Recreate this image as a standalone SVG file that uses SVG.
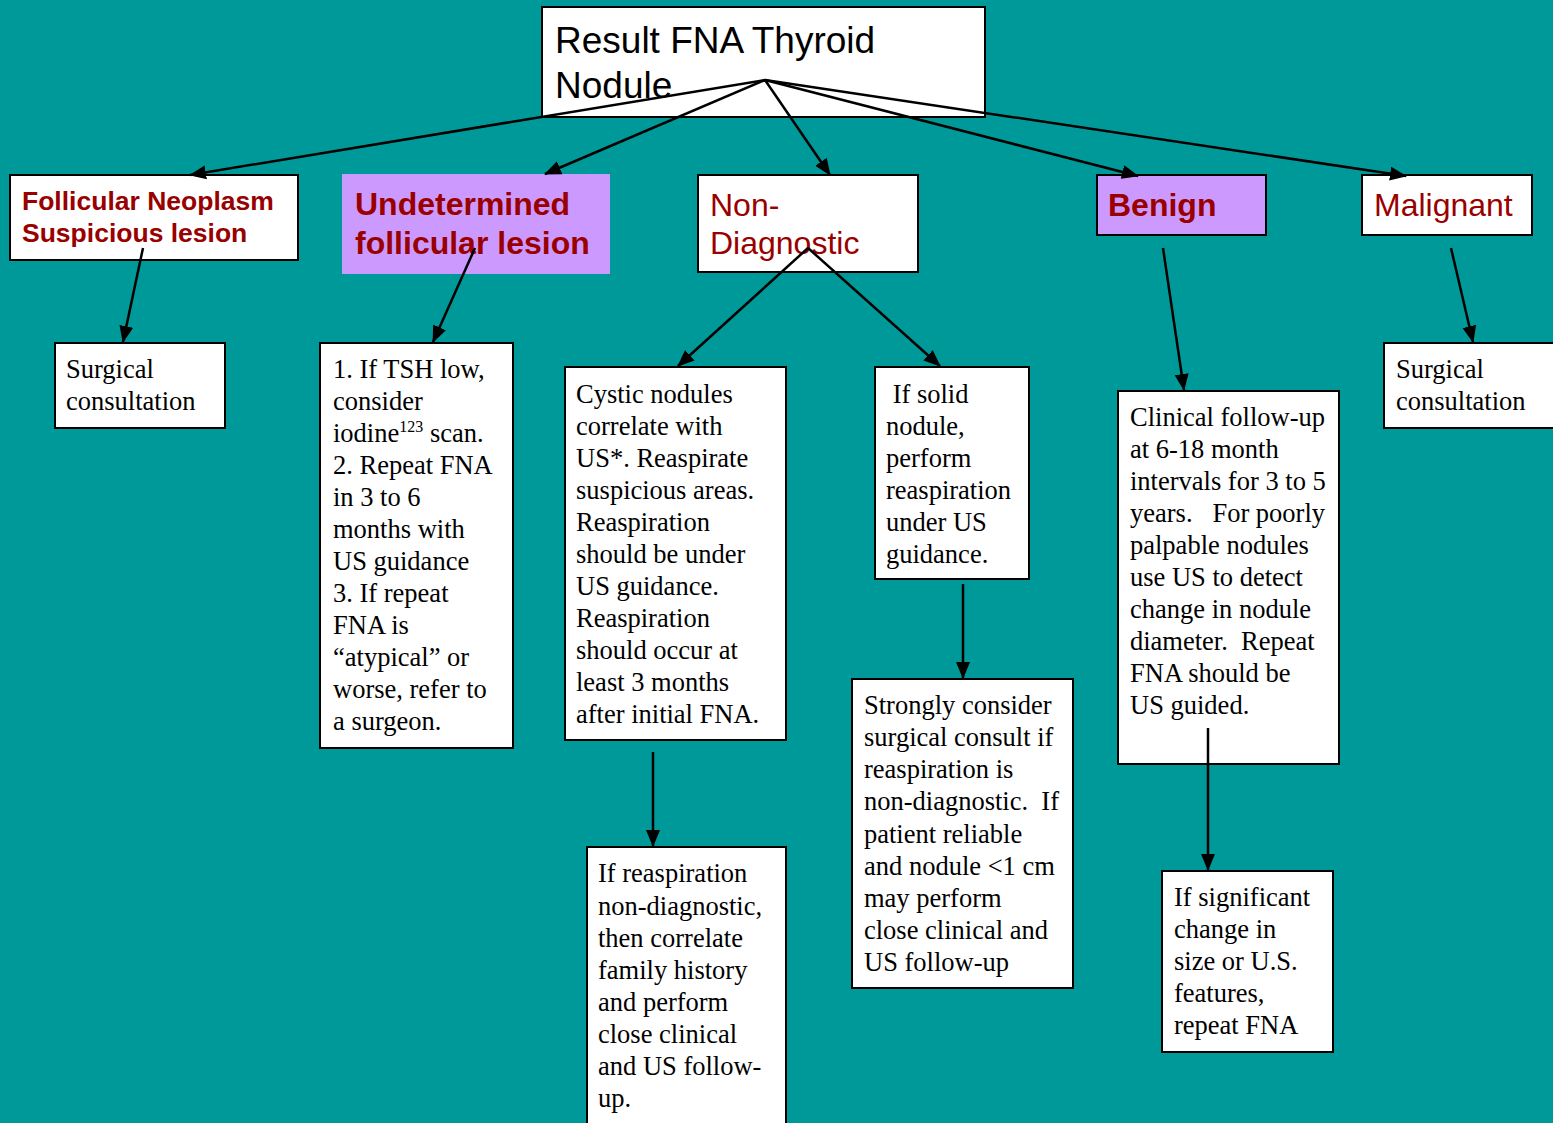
<svg xmlns="http://www.w3.org/2000/svg" width="1553" height="1123" viewBox="0 0 1553 1123">
<style>
.box{fill:#fff;stroke:#000;stroke-width:2}
.purple{fill:#cc99ff}
.pb{fill:#cc99ff;stroke:#000;stroke-width:2}
.hd{font-family:"Liberation Sans",Arial,sans-serif;fill:#990000}
.b{font-weight:bold}
.tx{font-family:"Liberation Serif","Times New Roman",serif;font-size:26.5px;fill:#000}
.ti{font-family:"Liberation Sans",Arial,sans-serif;font-size:37px;fill:#000}
.cn line{stroke:#000;stroke-width:2.5;marker-end:url(#ah)}
</style>
<defs>
<marker id="ah" markerUnits="userSpaceOnUse" markerWidth="18" markerHeight="16" refX="16" refY="8" orient="auto">
<path d="M0,1 L17,8 L0,15 Z" fill="#000"/>
</marker>
</defs>
<rect width="1553" height="1123" fill="#009999"/>

<g id="n-top">
<rect class="box" x="542" y="7" width="443" height="110"/>
<text class="ti" x="555" y="53">Result FNA Thyroid</text>
<text class="ti" x="555" y="98">Nodule</text>
</g>

<g id="n-follicular">
<rect class="box" x="10" y="175" width="288" height="85"/>
<text class="hd b" font-size="26.5" x="22" y="210">Follicular Neoplasm</text>
<text class="hd b" font-size="26.5" x="22" y="242">Suspicious lesion</text>
</g>

<g id="n-undetermined">
<rect class="purple" x="342" y="174" width="268" height="100"/>
<text class="hd b" font-size="32" x="355" y="215">Undetermined</text>
<text class="hd b" font-size="32" x="355" y="254">follicular lesion</text>
</g>

<g id="n-nondiag">
<rect class="box" x="698" y="175" width="220" height="97"/>
<text class="hd" font-size="32" x="710" y="216">Non-</text>
<text class="hd" font-size="32" x="710" y="254">Diagnostic</text>
</g>

<g id="n-benign">
<rect class="pb" x="1097" y="175" width="169" height="60"/>
<text class="hd b" font-size="32" x="1108" y="216">Benign</text>
</g>

<g id="n-malignant">
<rect class="box" x="1362" y="175" width="170" height="60"/>
<text class="hd" font-size="32" x="1374" y="216">Malignant</text>
</g>

<g id="n-surg-left">
<rect class="box" x="55" y="343" width="170" height="85"/>
<text class="tx" x="66" y="378">Surgical</text>
<text class="tx" x="66" y="410">consultation</text>
</g>

<g id="n-tsh">
<rect class="box" x="320" y="343" width="193" height="405"/>
<text class="tx" x="333" y="378">1. If TSH low,</text>
<text class="tx" x="333" y="410">consider</text>
<text class="tx" x="333" y="442">iodine<tspan font-size="16" dy="-10">123</tspan><tspan dy="10"> scan.</tspan></text>
<text class="tx" x="333" y="474">2. Repeat FNA</text>
<text class="tx" x="333" y="506">in 3 to 6</text>
<text class="tx" x="333" y="538">months with</text>
<text class="tx" x="333" y="570">US guidance</text>
<text class="tx" x="333" y="602">3. If repeat</text>
<text class="tx" x="333" y="634">FNA is</text>
<text class="tx" x="333" y="666">“atypical” or</text>
<text class="tx" x="333" y="698">worse, refer to</text>
<text class="tx" x="333" y="730">a surgeon.</text>
</g>

<g id="n-cystic">
<rect class="box" x="565" y="367" width="221" height="373"/>
<text class="tx" x="576" y="403">Cystic nodules</text>
<text class="tx" x="576" y="435">correlate with</text>
<text class="tx" x="576" y="467">US*. Reaspirate</text>
<text class="tx" x="576" y="499">suspicious areas.</text>
<text class="tx" x="576" y="531">Reaspiration</text>
<text class="tx" x="576" y="563">should be under</text>
<text class="tx" x="576" y="595">US guidance.</text>
<text class="tx" x="576" y="627">Reaspiration</text>
<text class="tx" x="576" y="659">should occur at</text>
<text class="tx" x="576" y="691">least 3 months</text>
<text class="tx" x="576" y="723">after initial FNA.</text>
</g>

<g id="n-solid">
<rect class="box" x="875" y="367" width="154" height="212"/>
<text class="tx" x="886" y="403" xml:space="preserve"> If solid</text>
<text class="tx" x="886" y="435">nodule,</text>
<text class="tx" x="886" y="467">perform</text>
<text class="tx" x="886" y="499">reaspiration</text>
<text class="tx" x="886" y="531">under US</text>
<text class="tx" x="886" y="563">guidance.</text>
</g>

<g id="n-clinical">
<rect class="box" x="1118" y="391" width="221" height="373"/>
<text class="tx" x="1130" y="426">Clinical follow-up</text>
<text class="tx" x="1130" y="458">at 6-18 month</text>
<text class="tx" x="1130" y="490">intervals for 3 to 5</text>
<text class="tx" x="1130" y="522" xml:space="preserve">years.   For poorly</text>
<text class="tx" x="1130" y="554">palpable nodules</text>
<text class="tx" x="1130" y="586">use US to detect</text>
<text class="tx" x="1130" y="618">change in nodule</text>
<text class="tx" x="1130" y="650" xml:space="preserve">diameter.  Repeat</text>
<text class="tx" x="1130" y="682">FNA should be</text>
<text class="tx" x="1130" y="714">US guided.</text>
</g>

<g id="n-surg-right">
<rect class="box" x="1384" y="343" width="180" height="85"/>
<text class="tx" x="1396" y="378">Surgical</text>
<text class="tx" x="1396" y="410">consultation</text>
</g>

<g id="n-reasp">
<rect class="box" x="587" y="847" width="199" height="290"/>
<text class="tx" x="598" y="882">If reaspiration</text>
<text class="tx" x="598" y="915">non-diagnostic,</text>
<text class="tx" x="598" y="947">then correlate</text>
<text class="tx" x="598" y="979">family history</text>
<text class="tx" x="598" y="1011">and perform</text>
<text class="tx" x="598" y="1043">close clinical</text>
<text class="tx" x="598" y="1075">and US follow-</text>
<text class="tx" x="598" y="1107">up.</text>
</g>

<g id="n-strongly">
<rect class="box" x="852" y="679" width="221" height="309"/>
<text class="tx" x="864" y="714">Strongly consider</text>
<text class="tx" x="864" y="746">surgical consult if</text>
<text class="tx" x="864" y="778">reaspiration is</text>
<text class="tx" x="864" y="810" xml:space="preserve">non-diagnostic.  If</text>
<text class="tx" x="864" y="843">patient reliable</text>
<text class="tx" x="864" y="875">and nodule &lt;1 cm</text>
<text class="tx" x="864" y="907">may perform</text>
<text class="tx" x="864" y="939">close clinical and</text>
<text class="tx" x="864" y="971">US follow-up</text>
</g>

<g id="n-significant">
<rect class="box" x="1162" y="871" width="171" height="181"/>
<text class="tx" x="1174" y="906">If significant</text>
<text class="tx" x="1174" y="938">change in</text>
<text class="tx" x="1174" y="970">size or U.S.</text>
<text class="tx" x="1174" y="1002">features,</text>
<text class="tx" x="1174" y="1034">repeat FNA</text>
</g>

<g id="connectors" class="cn">
<line x1="765" y1="80" x2="190" y2="175"/>
<line x1="765" y1="80" x2="545" y2="174"/>
<line x1="765" y1="80" x2="830" y2="175"/>
<line x1="765" y1="80" x2="1138" y2="176"/>
<line x1="765" y1="80" x2="1406" y2="176"/>
<line x1="143" y1="248" x2="123" y2="342"/>
<line x1="475" y1="248" x2="433" y2="342"/>
<line x1="808" y1="248" x2="678" y2="366"/>
<line x1="808" y1="248" x2="940" y2="366"/>
<line x1="1163" y1="248" x2="1184" y2="390"/>
<line x1="1451" y1="248" x2="1473" y2="342"/>
<line x1="653" y1="752" x2="653" y2="846"/>
<line x1="963" y1="584" x2="963" y2="678"/>
<line x1="1208" y1="728" x2="1208" y2="870"/>
</g>
</svg>
